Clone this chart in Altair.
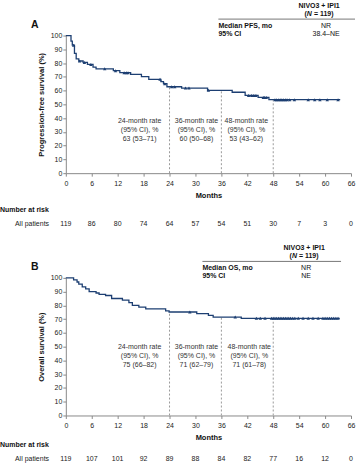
import altair as alt
import pandas as pd

# ---------------- data ----------------
risk_times = [0, 6, 12, 18, 24, 30, 36, 42, 48, 54, 60, 66]
pfs_at_risk = [119, 86, 80, 74, 64, 57, 54, 51, 30, 7, 3, 0]
os_at_risk = [119, 107, 101, 92, 89, 88, 84, 82, 77, 16, 12, 0]

# Kaplan-Meier step curves (time in months, survival %)
pfs_t = [0, 1.2, 1.5, 2.0, 2.4, 3.0, 4.0, 5.0, 6.3, 7.0, 11.0, 12.5, 15.0, 17.5,
         19.2, 22.0, 22.6, 23.4, 26.8, 32.8, 38.5, 41.5, 44.5, 47.0, 63.5]
pfs_v = [100, 96, 93, 87, 83, 81.5, 80.5, 79, 77, 75.8, 74.5, 73, 71.8, 70.2,
         68.2, 66.5, 65, 62.8, 61.8, 60.2, 58.8, 56.5, 55, 53.4, 53.4]
pfs_cens = [1.8, 3.2, 4.3, 5.8, 9.0, 11.5, 13.5, 14.0, 14.4, 21.8, 22.9, 24.5,
            25.2, 27.7, 28.5, 33.0, 42.3, 43.0, 43.5, 44.0, 45.7, 46.0, 46.4,
            48.4, 48.8, 49.2, 49.6, 50.0, 50.4, 50.8, 51.2, 51.8, 52.9, 56.1,
            57.6, 58.8, 60.5, 63.0]

os_t = [0, 1.8, 2.6, 3.0, 3.8, 4.6, 5.4, 7.0, 7.7, 9.2, 10.6, 13.1, 14.6, 15.4,
        16.9, 18.5, 23.1, 23.9, 30.3, 33.0, 34.1, 40.6, 63.4]
os_v = [100, 98.5, 97, 95.5, 93.5, 92, 90, 89, 88, 87.2, 85, 83.8, 82, 80,
        78.8, 77.5, 76, 75.2, 74, 72.8, 71.5, 70.6, 70.6]
os_cens = [28.7, 39.2, 44.1, 45.0, 46.1, 47.6, 48.0, 48.4, 48.8, 49.2, 49.6,
           50.0, 50.4, 50.8, 51.2, 51.6, 52.0, 52.5, 53.0, 53.8, 54.9, 56.1,
           57.2, 58.4, 59.5, 60.0, 60.5, 61.0, 61.5, 62.0, 62.5, 63.0]

landmarks = [24, 36, 48]
pfs_rates = [63, 60, 53]
os_rates = [75, 71, 71]
pfs_rate_text = ["63 (53–71)", "60 (50–68)", "53 (43–62)"]
os_rate_text = ["75 (66–82)", "71 (62–79)", "71 (61–78)"]
rate_line1 = ["24-month rate", "36-month rate", "48-month rate"]

NAVY = "#1d3f72"
FONT = "Liberation Sans"


def step_val(t, times, vals):
    v = vals[0]
    for ti, vi in zip(times, vals):
        if ti <= t:
            v = vi
    return v


xs = alt.Scale(domain=[0, 66], nice=False, zero=False)
ys = alt.Scale(domain=[0, 100], nice=False)
xaxis = alt.Axis(values=risk_times, title="Months", labelFlush=False,
                 labelPadding=3, titlePadding=5)


def yaxis(title):
    return alt.Axis(values=list(range(0, 101, 10)), title=title,
                    labelPadding=1, titlePadding=5)


def txt(text, x, y, size=7, weight="normal", align="center", style="normal",
        color="#111"):
    return alt.Chart(alt.Data(values=[{"a": 1}])).mark_text(
        text=text, fontSize=size, fontWeight=weight, align=align,
        baseline="middle", fontStyle=style, color=color, font=FONT
    ).encode(x=alt.value(x), y=alt.value(y))


def n_label(center, y):
    # "(N = 119)" with italic N
    start = center - 14.7
    return [
        txt("(", start, y, weight="bold", align="left"),
        txt("N", start + 2.4, y, weight="bold", align="left", style="italic"),
        txt("= 119)", start + 9.5, y, weight="bold", align="left"),
    ]


def panel(letter, times, vals, cens, rates, rate_vals, at_risk, ytitle,
          med_label, med_val, ci_val, tab_left, tab_right, head_c, val_c,
          rate_x, rate_y, risk_y):
    X = alt.X("t:Q", scale=xs, axis=xaxis)
    Y = alt.Y("v:Q", scale=ys, axis=yaxis(ytitle))
    curve_df = pd.DataFrame({"t": times, "v": vals})
    cens_df = pd.DataFrame({"t": cens, "v": [step_val(c, times, vals) for c in cens]})
    rate_df = pd.DataFrame({"t": landmarks, "z": [0] * len(landmarks), "v": rates})
    risk_df = pd.DataFrame({"t": risk_times, "n": at_risk})

    curve = alt.Chart(curve_df).mark_line(
        interpolate="step-after", color=NAVY, strokeWidth=1.3
    ).encode(x=X, y=Y)
    marks = alt.Chart(cens_df).mark_point(
        shape="triangle-up", filled=True, size=12, color=NAVY, opacity=1
    ).encode(x=X, y=Y)
    rules = alt.Chart(rate_df).mark_rule(
        color="#9a9a9a", strokeDash=[2, 2], strokeWidth=1
    ).encode(x=X, y=alt.Y("z:Q", scale=ys, axis=yaxis(ytitle)), y2="v:Q")
    risk = alt.Chart(risk_df).mark_text(
        fontSize=7, font=FONT, color="#222", baseline="middle"
    ).encode(x=X, y=alt.value(risk_y + 14), text="n:Q")

    layers = [rules, curve, marks, risk]
    layers.append(txt(letter, -35, -11, size=10.5, weight="bold", align="left"))
    # table
    layers.append(txt("NIVO3 + IPI1", head_c, -30, weight="bold"))
    layers += n_label(head_c, -22)
    layers.append(alt.Chart(alt.Data(values=[{"a": 1}])).mark_rule(
        color="#555", strokeWidth=0.8).encode(
        x=alt.value(tab_left), x2=alt.value(tab_right), y=alt.value(-16.5)))
    layers.append(txt(med_label, tab_left, -10, weight="bold", align="left"))
    layers.append(txt("95% CI", tab_left, -1.5, weight="bold", align="left"))
    layers.append(txt(med_val, val_c, -10))
    layers.append(txt(ci_val, val_c, -1.5))
    # landmark rate annotations
    for i in range(3):
        layers.append(txt(rate_line1[i], rate_x[i], rate_y, color="#333"))
        layers.append(txt("(95% CI), %", rate_x[i], rate_y + 9, color="#333"))
        layers.append(txt(rate_vals[i], rate_x[i], rate_y + 18, color="#333"))
    # number at risk
    layers.append(txt("Number at risk", -66, risk_y, weight="bold", align="left"))
    layers.append(txt("All patients", -51, risk_y + 14, align="left", color="#222"))

    return alt.layer(*layers).properties(width=286, height=138)


pA = panel("A", pfs_t, pfs_v, pfs_cens, pfs_rates, pfs_rate_text, pfs_at_risk,
           "Progression-free survival (%)", "Median PFS, mo", "NR", "38.4–NE",
           153, 290, 254, 261, [74, 131, 181], 86, 175)
pB = panel("B", os_t, os_v, os_cens, os_rates, os_rate_text, os_at_risk,
           "Overall survival (%)", "Median OS, mo", "NR", "NE",
           137, 276, 239, 241, [74, 131, 184], 69, 168)

chart = alt.vconcat(pA, pB, spacing=17).properties(
    padding={"left": 0, "top": 1, "right": 0, "bottom": 0}
).configure_view(stroke=None).configure_axis(
    labelFont=FONT, titleFont=FONT, labelFontSize=7, titleFontSize=7.5,
    titleFontWeight="bold", labelColor="#222", titleColor="#111",
    domainColor="#8a8a8a", tickColor="#8a8a8a", tickSize=3, grid=False,
    domainWidth=1, tickWidth=1
)

chart.save("out.html", embed_options={"renderer": "svg", "actions": False})
